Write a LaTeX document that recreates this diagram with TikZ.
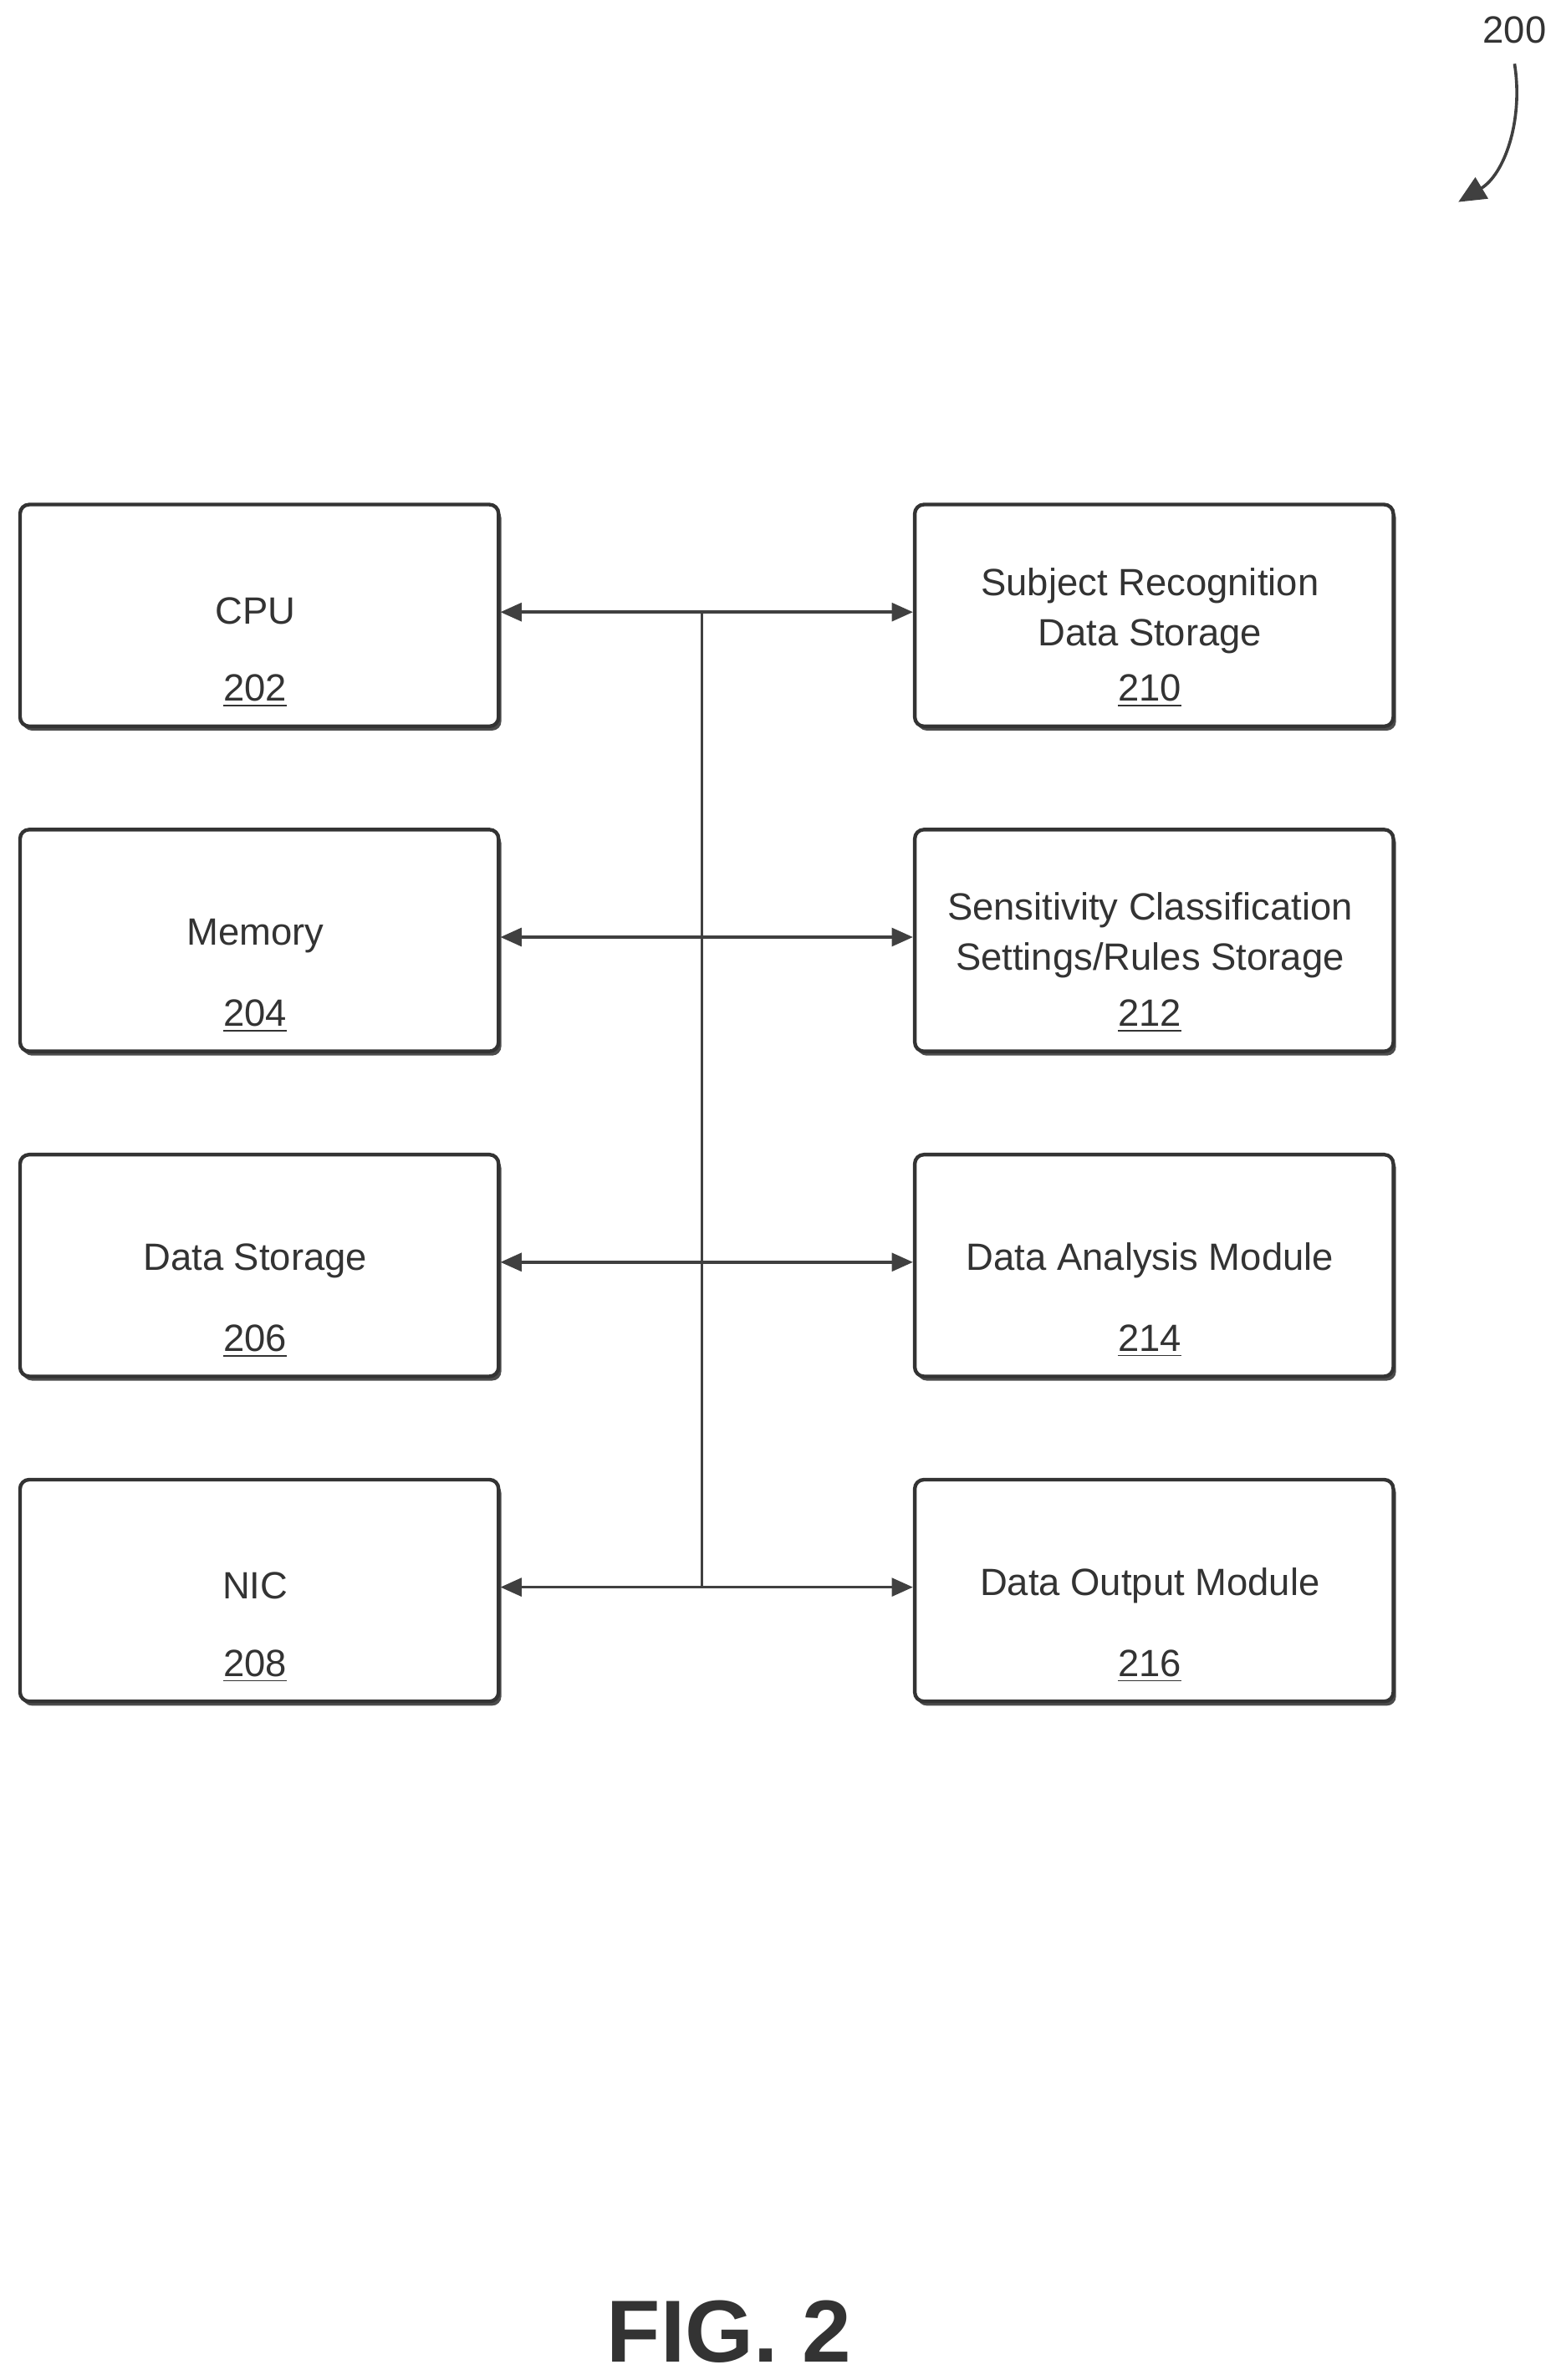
\documentclass[tikz,border=0pt]{standalone}
\usepackage{fontspec}
\setmainfont{Liberation Sans}
\usetikzlibrary{arrows.meta}
\begin{document}
\begin{tikzpicture}[x=0.5pt,y=-0.5pt,
  box/.style={draw=black!80,line width=1.2pt,rounded corners=3pt,fill=white,minimum width=157.5pt,minimum height=73pt,anchor=north west,inner sep=0pt},
  shadow/.style={fill=black!70,rounded corners=3pt},
  lbl/.style={font=\fontsize{12.5}{16.5}\selectfont,text=black!80,align=center},
  bus/.style={line width=1pt,draw=black!75},
  arr/.style={bus,{Triangle[length=7pt,width=6pt]}-{Triangle[length=7pt,width=6pt]}}]
\useasboundingbox (0,0) rectangle (1024,1567);
\foreach \x/\y/\n in {12/331/a,12/545/b,12/759/c,12/973/d,601/331/e,601/545/f,601/759/g,601/973/h}{
  \fill[shadow] (\x+3,\y+4) rectangle ++(315,146);
  \node[box] (\n) at (\x,\y) {};
}
\node[lbl] at (168,402) {CPU};
\node[lbl] at (168,455) {\underline{202}};
\node[lbl] at (168,616) {Memory};
\node[lbl] at (168,669) {\underline{204}};
\node[lbl] at (168,830) {Data Storage};
\node[lbl] at (168,883) {\underline{206}};
\node[lbl] at (168,1044) {NIC};
\node[lbl] at (168,1097) {\underline{208}};
\node[lbl] at (757,402) {Subject Recognition\\Data Storage};
\node[lbl] at (757,455) {\underline{210}};
\node[lbl] at (757,616) {Sensitivity Classification\\Settings/Rules Storage};
\node[lbl] at (757,669) {\underline{212}};
\node[lbl] at (757,830) {Data Analysis Module};
\node[lbl] at (757,883) {\underline{214}};
\node[lbl] at (757,1044) {Data Output Module};
\node[lbl] at (757,1097) {\underline{216}};
\coordinate (t) at (462,403);
\coordinate (bt) at (462,1045);
\draw[bus] (t) -- (bt);
\draw[arr] (a.east|-t) -- (e.west|-t);
\draw[arr] (b.east|-0,617) -- (f.west|-0,617);
\draw[arr] (c.east|-0,831) -- (g.west|-0,831);
\draw[arr] (d.east|-bt) -- (h.west|-bt);
\node[lbl] (n200) at (997,20) {200};
\coordinate (p) at (960,133);
\draw[bus,-{Triangle[length=9pt,width=8pt]}] (997,42) .. controls (1003,80) and (990,115) .. (p);
\node[font=\fontsize{29}{32}\selectfont\bfseries,text=black!80] (fig) at (480,1535) {FIG. 2};
\end{tikzpicture}
\end{document}
